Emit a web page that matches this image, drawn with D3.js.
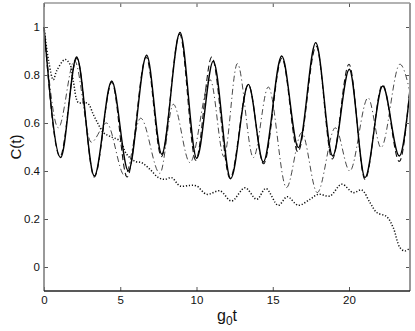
<!DOCTYPE html>
<html>
<head>
<meta charset="utf-8">
<script src="https://cdn.jsdelivr.net/npm/d3@7"></script>
<style>
  body { margin: 0; background: #fff; }
  svg { display: block; font-family: "Liberation Sans", Arial, sans-serif; }
</style>
</head>
<body>
<svg id="chart"></svg>
<script>
// values (t, C)
const solidT = [0, 1.09, 2.14, 3.30, 4.44, 5.53, 6.73, 7.72, 8.92, 10.01, 11.1, 12.24, 13.4, 14.38, 15.59, 16.68, 17.82, 18.93, 20.02, 21.05, 22.21, 23.3, 24];
const solidC = [1.0, 0.456, 0.875, 0.379, 0.775, 0.40, 0.883, 0.47, 0.977, 0.453, 0.858, 0.368, 0.761, 0.4375, 0.879, 0.4975, 0.935, 0.4625, 0.824, 0.3725, 0.754, 0.4625, 0.733];

const dashT = [0, 1.05, 2.15, 3.3, 4.45, 5.45, 6.7, 7.7, 8.9, 9.95, 11.0, 12.2, 13.4, 14.4, 15.6, 16.65, 17.85, 18.9, 20.0, 21.05, 22.2, 23.3, 24];
const dashC = [1.0, 0.46, 0.87, 0.375, 0.77, 0.375, 0.875, 0.46, 0.97, 0.445, 0.875, 0.37, 0.76, 0.43, 0.87, 0.48, 0.92, 0.45, 0.845, 0.365, 0.76, 0.44, 0.75];

const dashDotT = [0, 0.94, 2.0, 3.1, 4.1, 5.3, 6.34, 7.6, 8.48, 9.57, 10.9, 11.8, 12.68, 13.73, 14.71, 15.9, 16.9, 17.92, 19.1, 20.05, 21.25, 22.1, 23.34, 24];
const dashDotC = [1.0, 0.58, 0.86, 0.52, 0.6, 0.38, 0.62, 0.39, 0.678, 0.435, 0.78, 0.46, 0.8475, 0.456, 0.75, 0.331, 0.56, 0.31, 0.58, 0.40, 0.705, 0.4975, 0.845, 0.73];

const dotT = [0, 0.3, 0.61, 0.83, 1.38, 1.7, 1.92, 2.25, 2.58, 2.9, 3.23, 3.56, 3.89, 4.33, 4.98, 5.42, 5.97, 6.4, 6.95, 7.5, 7.93, 8.37, 8.92, 9.57, 10.01, 10.67, 11.54, 12.3, 13.18, 13.95, 14.55, 15.36, 15.95, 16.68, 17.44, 17.99, 18.75, 19.52, 20.28, 20.83, 21.38, 21.82, 22.47, 22.9, 23.34, 23.67, 24];
const dotC = [1.0, 0.86, 0.78, 0.817, 0.865, 0.845, 0.775, 0.685, 0.685, 0.68, 0.636, 0.595, 0.56, 0.544, 0.525, 0.47, 0.44, 0.435, 0.407, 0.3725, 0.365, 0.3725, 0.3375, 0.34, 0.3375, 0.303, 0.317, 0.275, 0.33, 0.282, 0.327, 0.257, 0.293, 0.257, 0.282, 0.303, 0.296, 0.345, 0.31, 0.321, 0.268, 0.227, 0.21, 0.164, 0.081, 0.067, 0.08];

const xTicks = [0, 5, 10, 15, 20];
const yTicks = [0, 0.2, 0.4, 0.6, 0.8, 1];

const wSvg = 415;
const hSvg = 331;
const margin = { top: 3, right: 5, bottom: 40, left: 44 };

const svg = d3.select("#chart")
  .attr("width", wSvg)
  .attr("height", hSvg);

const x = d3.scaleLinear()
  .domain([0, 24])
  .range([margin.left, wSvg - margin.right]);

const y = d3.scaleLinear()
  .domain([-0.1, 1.1])
  .range([hSvg - margin.bottom, margin.top]);

function pairs(ts, cs) {
  return ts.map((t, i) => ({ t: t, c: cs[i] }));
}

// lines
const line = d3.line()
  .x(d => x(d.t))
  .y(d => y(d.c))
  .curve(d3.curveMonotoneX);

const smooth = d3.line()
  .x(d => x(d.t))
  .y(d => y(d.c))
  .curve(d3.curveCatmullRom.alpha(0.5));

const plot = svg.append("g");

plot.append("path")
  .attr("d", smooth(pairs(dotT, dotC)))
  .attr("fill", "none")
  .attr("stroke", "#111")
  .attr("stroke-width", 1.5)
  .attr("stroke-dasharray", "1.2,1.8");

plot.append("path")
  .attr("d", line(pairs(dashDotT, dashDotC)))
  .attr("fill", "none")
  .attr("stroke", "#333")
  .attr("stroke-width", 0.9)
  .attr("stroke-dasharray", "6,3,1.2,3");

plot.append("path")
  .attr("d", line(pairs(dashT, dashC)))
  .attr("fill", "none")
  .attr("stroke", "#111")
  .attr("stroke-width", 1.1)
  .attr("stroke-dasharray", "6,3.5");

plot.append("path")
  .attr("d", line(pairs(solidT, solidC)))
  .attr("fill", "none")
  .attr("stroke", "#000")
  .attr("stroke-width", 1.4);

// axes (MATLAB style, ticks pointing inwards)
const yAxis = d3.axisLeft(y).tickValues(yTicks).tickSize(-4).tickPadding(4).tickFormat(d3.format("~g"));
const xAxis = d3.axisBottom(x).tickValues(xTicks).tickSize(-4).tickPadding(5);

const gy = svg.append("g")
  .attr("transform", `translate(${margin.left}, 0)`)
  .call(yAxis);

const gyr = svg.append("g")
  .attr("transform", `translate(${wSvg - margin.right}, 0)`)
  .call(d3.axisRight(y).tickValues(yTicks).tickSize(-4).tickFormat(""));

const gx = svg.append("g")
  .attr("transform", `translate(0, ${hSvg - margin.bottom})`)
  .call(xAxis);

const gxt = svg.append("g")
  .attr("transform", `translate(0, ${margin.top})`)
  .call(d3.axisTop(x).tickValues(xTicks).tickSize(-4).tickFormat(""));

[gy, gyr, gx, gxt].forEach(g => {
  g.select(".domain").remove();
  g.selectAll(".tick line").attr("stroke", "#555");
  g.selectAll(".tick text")
    .attr("font-size", 11.5)
    .attr("font-family", "Liberation Sans, Arial, sans-serif")
    .attr("fill", "#111");
});

// box
svg.append("line")
  .attr("x1", margin.left).attr("x2", wSvg - margin.right)
  .attr("y1", margin.top).attr("y2", margin.top)
  .attr("stroke", "#999").attr("stroke-width", 1.5);
svg.append("line")
  .attr("x1", wSvg - margin.right).attr("x2", wSvg - margin.right)
  .attr("y1", margin.top).attr("y2", hSvg - margin.bottom)
  .attr("stroke", "#999").attr("stroke-width", 2);
svg.append("line")
  .attr("x1", margin.left).attr("x2", margin.left)
  .attr("y1", margin.top).attr("y2", hSvg - margin.bottom)
  .attr("stroke", "#777").attr("stroke-width", 1.5);
svg.append("line")
  .attr("x1", margin.left).attr("x2", wSvg - margin.right)
  .attr("y1", hSvg - margin.bottom).attr("y2", hSvg - margin.bottom)
  .attr("stroke", "#222").attr("stroke-width", 1.5);

// axis labels
const xl = svg.append("text")
  .attr("x", (margin.left + wSvg - margin.right) / 2)
  .attr("y", 321)
  .attr("text-anchor", "middle")
  .attr("font-size", 16)
  .attr("fill", "#111");
xl.append("tspan").text("g");
xl.append("tspan").attr("font-size", 12).attr("dy", 4).text("0");
xl.append("tspan").attr("dy", -4).text("t");

svg.append("text")
  .attr("transform", `translate(21, ${(margin.top + hSvg - margin.bottom) / 2}) rotate(-90)`)
  .attr("text-anchor", "middle")
  .attr("font-size", 15)
  .attr("fill", "#111")
  .text("C(t)");
</script>
</body>
</html>
